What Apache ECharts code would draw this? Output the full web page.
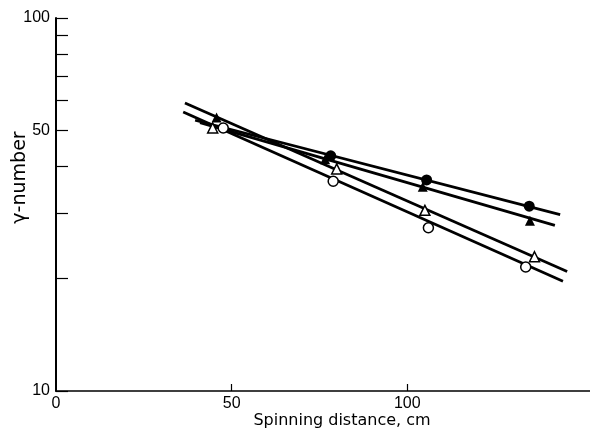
<!DOCTYPE html>
<html>
<head>
<meta charset="utf-8">
<script src="https://cdn.jsdelivr.net/npm/echarts@6/dist/echarts.min.js"></script>
<style>
html,body{margin:0;padding:0;background:#fff;}
#chart{width:590px;height:437px;}
</style>
</head>
<body>
<div id="chart"></div>
<script>
// Measured points: [spinning distance (cm), gamma-number]
const filledCircles   = [[78.2, 42.7], [105.5, 36.8], [134.7, 31.3]];
const filledTriangles = [[45.7, 54.1], [76.6, 41.8], [104.4, 35.3], [134.9, 28.6]];
const openTriangles   = [[44.6, 50.7], [79.9, 39.4], [105.0, 30.5], [136.2, 22.9]];
const openCircles     = [[47.6, 50.7], [78.9, 36.5], [106.0, 27.4], [133.7, 21.5]];

// Fitted straight lines (end points)
const lineFilledCircle   = [[39.6, 53.2], [143.5, 29.7]];
const lineFilledTriangle = [[41.0, 52.4], [142.0, 27.8]];
const lineOpenTriangle   = [[36.7, 59.2], [145.5, 20.9]];
const lineOpenCircle     = [[36.2, 56.0], [144.3, 19.7]];

// Axis ticks / labels
const yTickValues  = [10, 20, 30, 40, 50, 60, 70, 80, 90, 100];
const yLabelValues = [10, 50, 100];
const xTickValues  = [50, 100];
const xLabelValues = [0, 50, 100];

const TICK_FONT = "'Liberation Sans Narrow', 'Liberation Sans', sans-serif";
const NAME_FONT = "'DejaVu Sans', sans-serif";
const chart = echarts.init(document.getElementById('chart'), null, {renderer: 'canvas'});

function fitLine(data) {
  return {
    type: 'line', data: data, symbol: 'none', silent: true, z: 2,
    lineStyle: {color: '#000', width: 2.8}
  };
}
function marks(data, symbol, filled, size) {
  return {
    type: 'scatter', data: data, symbol: symbol, symbolSize: size, z: 5,
    itemStyle: {color: filled ? '#000' : '#fff', borderColor: '#000', borderWidth: filled ? 0 : 1.5, opacity: 1}
  };
}

chart.setOption({
  animation: false,
  backgroundColor: '#fff',
  grid: {left: 56, right: 0, top: 18, bottom: 46, outerBoundsMode: 'none', containLabel: false},
  xAxis: {
    type: 'value', min: 0, max: 152, interval: 50,
    name: 'Spinning distance, cm', nameLocation: 'middle', nameGap: 22, nameMoveOverlap: false,
    nameTextStyle: {fontFamily: NAME_FONT, fontSize: 16, color: '#000', padding: [0, 0, 0, 38]},
    axisLine: {show: true, lineStyle: {color: '#000', width: 1.5}},
    axisTick: {show: true, inside: true, length: 7, lineStyle: {color: '#000', width: 1.2}, customValues: xTickValues},
    axisLabel: {fontFamily: TICK_FONT, fontSize: 16, color: '#000', margin: 5, customValues: xLabelValues},
    splitLine: {show: false}
  },
  yAxis: {
    type: 'log', logBase: 10, min: 10, max: 100,
    name: 'γ-number', nameLocation: 'middle', nameRotate: 90, nameGap: 26, nameMoveOverlap: false,
    nameTextStyle: {fontFamily: NAME_FONT, fontSize: 19, color: '#000', padding: [0, 0, 0, 54]},
    axisLine: {show: true, lineStyle: {color: '#000', width: 2}},
    axisTick: {show: true, inside: true, length: 12, lineStyle: {color: '#000', width: 1.2}, customValues: yTickValues},
    axisLabel: {fontFamily: TICK_FONT, fontSize: 16, color: '#000', margin: 6, customValues: yLabelValues},
    minorTick: {show: false},
    splitLine: {show: false}
  },
  series: [
    fitLine(lineFilledCircle),
    fitLine(lineFilledTriangle),
    fitLine(lineOpenTriangle),
    fitLine(lineOpenCircle),
    marks(filledTriangles, 'triangle', true, 10),
    marks(filledCircles, 'circle', true, 11),
    marks(openTriangles, 'triangle', false, 10),
    marks(openCircles, 'circle', false, 10)
  ]
});
</script>
</body>
</html>
